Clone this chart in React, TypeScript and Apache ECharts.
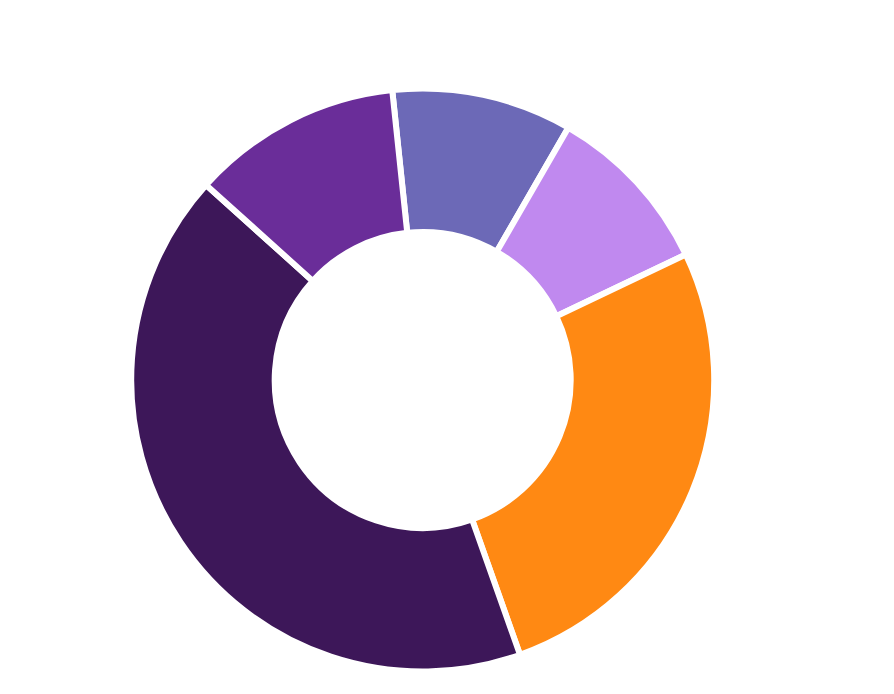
import React, { useEffect, useRef } from "react";
import * as echarts from "echarts";

const categories = ["A", "B", "C", "D", "E"];
const values = [36, 34.5, 96, 151.5, 42];
const colors = ["#6C69B7", "#C089EF", "#FF8913", "#3D1759", "#6A2D99"];

export default function App() {
  const ref = useRef<HTMLDivElement>(null);
  useEffect(() => {
    if (!ref.current) return;
    const chart = echarts.init(ref.current, undefined, { renderer: "svg" });
    chart.setOption({
      animation: false,
      backgroundColor: "#ffffff",
      series: [
        {
          type: "pie",
          center: [422.7, 380],
          radius: [148, 291.5],
          startAngle: 96,
          clockwise: true,
          label: { show: false },
          labelLine: { show: false },
          emphasis: { disabled: true },
          itemStyle: { borderColor: "#ffffff", borderWidth: 6 },
          data: categories.map((c, i) => ({
            name: c,
            value: values[i],
            itemStyle: { color: colors[i] },
          })),
        },
      ],
    });
    return () => chart.dispose();
  }, []);
  return (
    <div
      ref={ref}
      style={{ position: "absolute", left: 0, top: 0, width: 894, height: 694 }}
    />
  );
}
